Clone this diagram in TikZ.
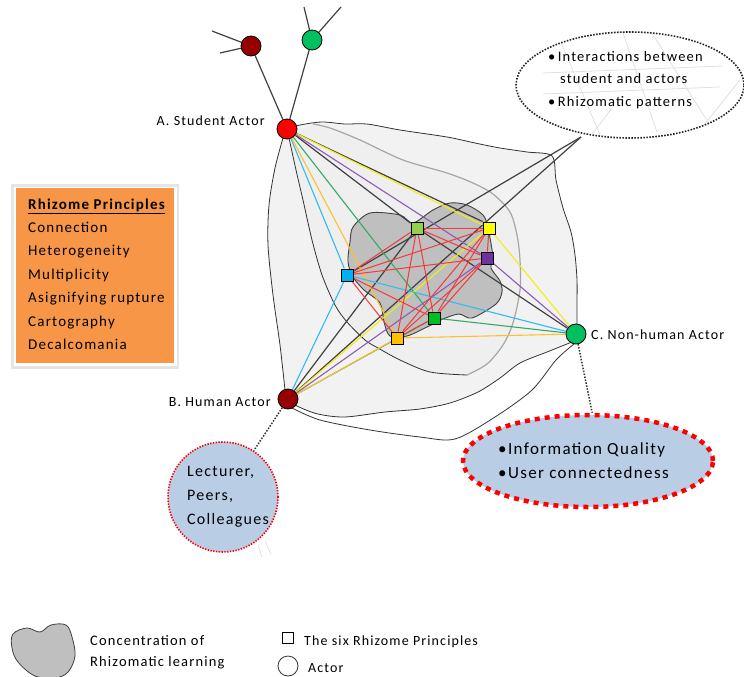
\documentclass[tikz,border=0pt]{standalone}
\usepackage{fontspec}
\setmainfont{Carlito}[LetterSpace=8]
\usetikzlibrary{shapes.geometric}

\definecolor{actred}{HTML}{FF0000}
\definecolor{actdark}{HTML}{960000}
\definecolor{actgreen}{HTML}{00C060}
\definecolor{sqlg}{HTML}{92D050}
\definecolor{sqyel}{HTML}{FFFF00}
\definecolor{sqpur}{HTML}{7030A0}
\definecolor{sqblue}{HTML}{00B0F0}
\definecolor{sqgreen}{HTML}{00C020}
\definecolor{sqor}{HTML}{FFC000}
\definecolor{lnyel}{HTML}{F2EE10}
\definecolor{lnpur}{HTML}{8A5CB8}
\definecolor{lngreen}{HTML}{33AA66}
\definecolor{lnor}{HTML}{FFC030}
\definecolor{lnblue}{HTML}{33BBEE}
\definecolor{lnred}{HTML}{F23A3A}
\definecolor{linkgray}{HTML}{404040}
\definecolor{boxorange}{HTML}{F79646}
\definecolor{paleblue}{HTML}{B9CDE5}
\definecolor{blobgray}{HTML}{BFBFBF}
\definecolor{outerfill}{HTML}{F2F2F2}
\definecolor{innerfill}{HTML}{EFEFEF}

\pgfdeclarelayer{bg}
\pgfdeclarelayer{links}
\pgfsetlayers{bg,links,main}

\tikzset{
  actor/.style={circle, draw=black, line width=0.8pt, minimum size=20pt, inner sep=0pt},
  sqnode/.style={rectangle, draw=black, line width=0.9pt, minimum size=12pt, inner sep=0pt},
  blackline/.style={draw=linkgray, line width=1.2pt},
  colline/.style={line width=1.1pt},
  redline/.style={draw=lnred, line width=1.0pt},
  outline/.style={draw=black!80, line width=0.8pt},
  dotconn/.style={draw=black!80, line width=1.5pt, dash pattern=on 1.5pt off 1.5pt},
  lbl/.style={inner sep=0pt, font=\fontsize{14}{16}\selectfont},
  boxtxt/.style={inner sep=0pt, anchor=base west, font=\fontsize{15}{17}\selectfont},
  bubtxt/.style={inner sep=0pt, anchor=base west, font=\fontsize{14.5}{16}\selectfont},
  faint/.style={draw=black!12, line width=0.8pt}
}

\begin{document}
\begin{tikzpicture}[x=1pt,y=-1pt]
\useasboundingbox (0,0) rectangle (744,677);

% ---------- actors ----------
\node[actor, fill=actred]   (A)  at (287,129) {};
\node[actor, fill=actdark]  (B)  at (288,399) {};
\node[actor, fill=actgreen] (C)  at (576,334) {};
\node[actor, fill=actdark]  (T1) at (251,46) {};
\node[actor, fill=actgreen] (T2) at (312,40) {};
\coordinate (t1a) at (212,31);
\coordinate (t1b) at (220,53);
\coordinate (t2a) at (304,7);
\coordinate (t2b) at (341,7);

% ---------- principles ----------
\node[sqnode, fill=sqlg]    (P1) at (417,228) {};
\node[sqnode, fill=sqyel]   (P2) at (489,228) {};
\node[sqnode, fill=sqpur]   (P3) at (487,258) {};
\node[sqnode, fill=sqblue]  (P4) at (347,275) {};
\node[sqnode, fill=sqgreen] (P5) at (434,318) {};
\node[sqnode, fill=sqor]    (P6) at (397,338) {};

% ---------- labels ----------
\node[lbl, anchor=base east] (la) at (265,125) {A. Student Actor};
\node[lbl, anchor=base east] (lb) at (271,406) {B. Human Actor};
\node[lbl, anchor=base west] (lc) at (591,339) {C. Non-human Actor};

% ---------- callout bubble ----------
\node[ellipse, minimum width=228pt, minimum height=106pt, inner sep=0pt,
      draw=black!85, line width=1.6pt, dash pattern=on 1.6pt off 1.4pt] (bub) at (630,85) {};
\coordinate (tail) at (581,137);
\node[bubtxt] (b1) at (548,62) {\textbullet\,Interactions between};
\node[bubtxt] (b2) at (560,84) {student and actors};
\node[bubtxt] (b3) at (548,106) {\textbullet\,Rhizomatic patterns};

% ---------- human actor circle ----------
\node[circle, minimum size=110pt, inner sep=0pt, fill=paleblue, draw=red,
      line width=1.6pt, dash pattern=on 1.4pt off 1.4pt] (hum) at (223,497) {};
\node[inner sep=0pt, anchor=base west, font=\fontsize{16}{18}\selectfont] (h1) at (187,476) {Lecturer,};
\node[inner sep=0pt, anchor=base west, font=\fontsize{16}{18}\selectfont] (h2) at (187,500) {Peers,};
\node[inner sep=0pt, anchor=base west, font=\fontsize{16}{18}\selectfont] (h3) at (187,524) {Colleagues};

% ---------- non-human actor ellipse ----------
\node[ellipse, minimum width=250pt, minimum height=92pt, inner sep=0pt, fill=paleblue,
      draw=red, line width=4.5pt, dash pattern=on 5pt off 5pt] (info) at (588,461) {};
\node[inner sep=0pt, anchor=base west, font=\fontsize{17}{19}\selectfont] (i1) at (498,454) {\textbullet Information Quality};
\node[inner sep=0pt, anchor=base west, font=\fontsize{17}{19}\selectfont] (i2) at (498,478) {\textbullet User connectedness};

% ---------- principles box ----------
\fill[black!10] (11,184) rectangle (179,369);
\fill[white] (13.5,186.5) rectangle (176.5,366);
\node[fill=boxorange, minimum width=158pt, minimum height=175pt, inner sep=0pt, anchor=north west] (box) at (16,188) {};
\node[boxtxt] (r0) at (28,209) {\textbf{\underline{Rhizome Principles}}};
\node[boxtxt] (r1) at (28,232) {Connection};
\node[boxtxt] (r2) at (28,255.5) {Heterogeneity};
\node[boxtxt] (r3) at (28,279) {Multiplicity};
\node[boxtxt] (r4) at (28,302.5) {Asignifying rupture};
\node[boxtxt] (r5) at (28,326) {Cartography};
\node[boxtxt] (r6) at (28,349.5) {Decalcomania};

% ---------- legend ----------
\filldraw[fill=blobgray, draw=black!75, line width=0.8pt]
  plot[smooth cycle, tension=0.6] coordinates {(13,634) (27,628) (40,632) (51,625) (66,625) (72,637) (75,656) (68,672) (55,678) (35,676) (18,662) (12,648)};
\node[inner sep=0pt, anchor=base west, font=\fontsize{14.5}{16}\selectfont] (g1) at (90,645) {Concentration of};
\node[inner sep=0pt, anchor=base west, font=\fontsize{14.5}{16}\selectfont] (g2) at (90,666) {Rhizomatic learning};
\node[rectangle, draw=black, line width=0.8pt, minimum size=11pt, inner sep=0pt] (gs) at (288,638) {};
\node[circle, draw=black!80, line width=0.8pt, minimum size=20pt, inner sep=0pt] (gc) at (288,666) {};
\node[inner sep=0pt, anchor=base west, font=\fontsize{14}{16}\selectfont] (g3) at (304,645) {The six Rhizome Principles};
\node[inner sep=0pt, anchor=base west, font=\fontsize{14}{16}\selectfont] (g4) at (308,672) {Actor};

% ---------- background shapes ----------
\begin{pgfonlayer}{bg}
  % outer region
  \filldraw[fill=outerfill, outline]
    plot[smooth, tension=0.5] coordinates {(287,129) (300,125) (322,122) (345,124) (367,124) (400,130) (447,137) (475,143) (500,148) (527,152) (552,156) (556,180) (563,208) (571,232) (575,255) (577,280) (577,305) (577,326)}
    -- plot[smooth, tension=0.5] coordinates {(572,342) (547,352) (520,363) (500,378) (478,392) (450,403) (420,409) (385,412) (345,417) (318,414) (297,406) (288,399)}
    -- plot[smooth, tension=0.5] coordinates {(285,390) (280,345) (273,295) (268,245) (269,205) (275,168) (283,138)}
    -- cycle;
  % lower rim
  \draw[outline] plot[smooth, tension=0.5] coordinates {(292,408) (320,420) (370,430) (420,437) (455,439) (495,417) (532,390) (556,360) (574,344)};
  % inner region
  \fill[innerfill]
    plot[smooth, tension=0.5] coordinates {(289,138) (296,170) (303,200) (312,240) (322,275) (335,305) (347,322) (365,340) (378,348) (400,360) (430,372) (467,375)}
    -- plot[smooth, tension=0.5] coordinates {(487,364) (503,345) (513,323) (520,290) (520,260) (517,235) (510,212) (493,194) (473,183) (447,173) (403,160) (360,140) (330,128) (313,124)}
    -- cycle;
  \draw[outline] plot[smooth, tension=0.5] coordinates {(289,138) (296,170) (303,200) (312,240) (322,275) (335,305) (347,322) (365,340) (378,348) (400,360) (430,372) (467,375)};
  \draw[draw=black!35, line width=1.2pt] plot[smooth, tension=0.5] coordinates {(467,375) (487,364) (503,345) (513,323) (520,290) (520,260) (517,235) (510,212) (493,194) (473,183) (447,173) (403,160) (360,140) (330,128) (313,124)};
  % concentration of rhizomatic learning
  \filldraw[fill=blobgray, draw=black!75, line width=0.9pt]
    plot[smooth cycle, tension=0.5] coordinates {(353,227) (370,213) (400,215) (413,223) (433,210) (450,203) (467,205) (483,215) (488,228) (493,257) (491,268) (500,281) (502,292) (496,304) (472,318) (459,314) (443,319) (427,327) (407,336) (390,336) (384,322) (380,303) (364,290) (353,277) (348,262) (350,242)};
  % texture inside the callout
  \begin{scope}
    \clip (bub.center) ellipse (113pt and 52pt);
    \draw[faint] (623,33) -- (657,132);
    \draw[faint] (650,30) -- (713,130);
    \draw[faint] (590,137) -- (612,108);
    \draw[faint] (543,73) -- (723,66);
    \draw[faint] (543,94) -- (720,87);
    \draw[faint] (700,130) -- (740,80);
    \draw[faint] (560,40) -- (600,135);
  \end{scope}
  \draw[faint] (258,545) -- (262,557);
  \draw[faint] (265,541) -- (271,554);
\end{pgfonlayer}

% ---------- connectors ----------
\begin{pgfonlayer}{links}
  \draw[blackline] (A) -- (T1);
  \draw[blackline] (A) -- (T2);
  \draw[blackline] (T1) -- (t1a);
  \draw[blackline] (T1) -- (t1b);
  \draw[blackline] (T2) -- (t2a);
  \draw[blackline] (T2) -- (t2b);
  % black links
  \draw[blackline] (A) -- (P1);
  \draw[blackline] (A) -- (P2.north west);
  \draw[blackline] (P1) -- (C);
  \draw[blackline] (P1) -- (B);
  \draw[blackline] (tail) -- (B);
  \draw[blackline] (tail) -- (P4);
  % student actor
  \draw[colline, lnyel]   (A) -- (P2);
  \draw[colline, lnpur]   (A) -- (P3);
  \draw[colline, lnblue]  (A) -- (P4);
  \draw[colline, lngreen] (A) -- (P5);
  \draw[colline, lnor]    (A) -- (P6);
  % human actor
  \draw[colline, lnyel]   (B) -- (P2);
  \draw[colline, lnpur]   (B) -- (P3);
  \draw[colline, lnblue]  (B) -- (P4);
  \draw[colline, lngreen] (B) -- (P5);
  \draw[colline, lnor]    (B) -- (P6);
  % non-human actor
  \draw[colline, lnyel]   (C) -- (P2);
  \draw[colline, lnpur]   (C) -- (P3);
  \draw[colline, lnblue]  (C) -- (P4);
  \draw[colline, lngreen] (C) -- (P5);
  \draw[colline, lnor]    (C) -- (P6);
  % principles among themselves
  \foreach \u/\v in {P1/P2,P1/P3,P1/P4,P1/P5,P1/P6,P2/P3,P2/P4,P2/P5,P2/P6,P3/P4,P3/P5,P3/P6,P4/P5,P4/P6,P5/P6}
    \draw[redline] (\u) -- (\v);
  % dotted leaders
  \draw[dotconn] (C) -- (info.85);
  \draw[dotconn] (B) -- (hum);
\end{pgfonlayer}
\end{tikzpicture}
\end{document}
